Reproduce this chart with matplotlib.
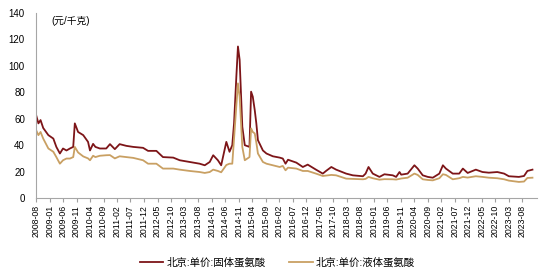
import matplotlib
matplotlib.use("Agg")
import matplotlib.pyplot as plt
import pandas as pd

plt.rcParams['font.family'] = ['Liberation Sans', 'Noto Sans CJK SC', 'DejaVu Sans']

# key points (元/千克)
dates = [
    "2008-08-01", "2008-08-28", "2008-09-21", "2008-10-21", "2008-12-18",
    "2009-02-12", "2009-03-18", "2009-04-27", "2009-06-01", "2009-07-10",
    "2009-08-18", "2009-09-24", "2009-10-12", "2009-11-18", "2010-01-15",
    "2010-03-10", "2010-04-01", "2010-05-06", "2010-06-01", "2010-07-21",
    "2010-10-01", "2010-11-12", "2011-01-06", "2011-03-01", "2011-05-15",
    "2011-08-01", "2011-11-20", "2012-01-15", "2012-04-18", "2012-07-01",
    "2012-10-25", "2013-01-06", "2013-04-28", "2013-08-18", "2013-10-15",
    "2013-12-10", "2014-01-18", "2014-03-12", "2014-04-18", "2014-06-15",
    "2014-07-21", "2014-08-21", "2014-09-10", "2014-10-06", "2014-10-24",
    "2014-11-12", "2014-12-12", "2015-01-09", "2015-03-03", "2015-03-21",
    "2015-04-09", "2015-05-01", "2015-05-19", "2015-06-06", "2015-08-01",
    "2015-09-10", "2015-11-21", "2016-02-06", "2016-03-12", "2016-04-12",
    "2016-05-10", "2016-08-12", "2016-10-24", "2016-12-18", "2017-03-21",
    "2017-06-06", "2017-07-12", "2017-09-10", "2017-11-03", "2018-02-24",
    "2018-05-10", "2018-09-01", "2018-10-01", "2018-11-03", "2018-12-21",
    "2019-03-06", "2019-05-01", "2019-08-03", "2019-09-10", "2019-10-18",
    "2019-11-06", "2020-01-18", "2020-04-03", "2020-05-10", "2020-07-06",
    "2020-09-01", "2020-10-27", "2021-01-09", "2021-02-18", "2021-03-24",
    "2021-06-09", "2021-08-21", "2021-10-01", "2021-11-24", "2022-02-24",
    "2022-05-10", "2022-07-21", "2022-10-24", "2023-01-09", "2023-03-03",
    "2023-06-24", "2023-08-21", "2023-09-28", "2023-11-24",
]

solid_price = [
    63, 56.5, 59, 53, 47.6, 45, 38.7, 33.7, 37.5, 36,
    37.5, 38.7, 56.5, 50, 47.6, 42.5, 36, 41, 38.7, 37.5,
    37.5, 40.8, 37, 40.8, 39.5, 38.7, 38, 35.7, 35.7, 31,
    30.6, 28.6, 27.3, 26, 24.8, 27.3, 32.4, 28.6, 24.8, 42.5,
    35, 40, 56.5, 92, 114.7, 104.6, 54, 40, 38.7, 80.5,
    76.7, 66.6, 56.5, 43.8, 36, 33.7, 31.6, 30.6, 29.9, 26,
    29, 26.8, 23.5, 25.3, 21.5, 18.5, 20.5, 23.5, 21.5, 18.5,
    17.2, 16.5, 18.5, 23.5, 18.5, 16, 18, 17.2, 16, 19.7,
    17.7, 18.5, 24.8, 22.3, 17.2, 16, 15.4, 18.5, 24.8, 22.3,
    18.5, 18.5, 22.3, 19, 21.5, 19.7, 19.2, 19.7, 18.5, 16.5,
    16, 16.7, 20.5, 21.5,
]

liquid_price = [
    51.5, 47.6, 50, 45, 37.5, 35, 31, 26, 28.6, 29.9,
    29.9, 31, 38.7, 34.5, 31.5, 30, 28.6, 32, 31, 32,
    32.4, 32.5, 30, 31.6, 31, 30.4, 28.6, 26, 26, 22.3,
    22.3, 21.5, 20.5, 19.7, 19, 19.7, 21.5, 20.5, 19.5, 25,
    26, 26, 45, 70, 86.8, 76.7, 38.7, 28.6, 31, 52.7,
    50, 48.9, 42, 33.7, 27.3, 26, 24.8, 23.5, 24.3, 21,
    23, 22.3, 20.5, 20.5, 18.5, 16.7, 17, 17.5, 17.2, 14.7,
    14.5, 14.2, 14.5, 16, 15, 13.9, 14.3, 14.2, 14, 14.5,
    14.8, 15.4, 18.5, 17.5, 14.2, 13.7, 13.4, 15, 18, 17.5,
    14.2, 15, 16, 15.5, 16.5, 16, 15.4, 15, 14.2, 13.2,
    12.2, 12.5, 15.2, 15.4,
]

series_names = ["北京:单价:固体蛋氨酸", "北京:单价:液体蛋氨酸"]
series_colors = ["#7D1518", "#C9A063"]
unit_label = "(元/千克)"

x = pd.to_datetime(dates)

fig = plt.figure(figsize=(5.5, 2.77), dpi=100)
ax = fig.add_axes([0.0655, 0.285, 0.911, 0.668])

ax.plot(x, solid_price, color=series_colors[0], lw=1.3, label=series_names[0])
ax.plot(x, liquid_price, color=series_colors[1], lw=1.3, label=series_names[1])

# x ticks every 5 months, 2008-08 .. 2023-08
ticks = pd.date_range("2008-08-01", "2023-08-01", freq="5MS")
ax.set_xticks(ticks)
ax.set_xticklabels([t.strftime("%Y-%m") for t in ticks], rotation=90, fontsize=6.3)
ax.set_xlim(pd.Timestamp("2008-08-01"), pd.Timestamp("2024-01-15"))

ax.set_ylim(0, 140)
ax.set_yticks(range(0, 141, 20))
ax.tick_params(axis='y', length=0, labelsize=7, pad=8)
ax.tick_params(axis='x', length=3, color="#A0A0A0", pad=2)

for side in ["top", "right"]:
    ax.spines[side].set_visible(False)
for side in ["left", "bottom"]:
    ax.spines[side].set_color("#A6A6A6")
    ax.spines[side].set_linewidth(0.8)

ax.text(0.03, 0.985, unit_label, transform=ax.transAxes, fontsize=7,
        va="top", ha="left")

fig.legend(loc="center", bbox_to_anchor=(0.504, 0.054), ncol=2, frameon=False,
           fontsize=7.5, handlelength=2.3, columnspacing=2.2, handletextpad=0.3)

fig.savefig("out.png", dpi=100)
